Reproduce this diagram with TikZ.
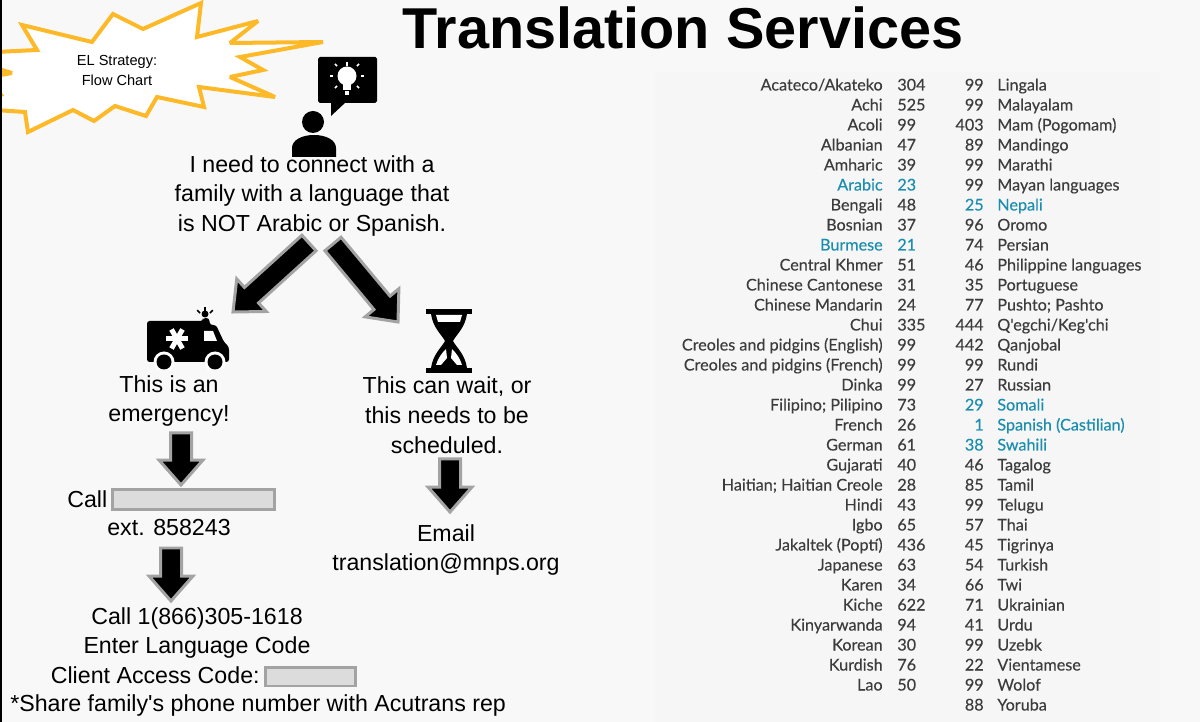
\documentclass[tikz,border=0pt]{standalone}
\usepackage{fontspec}
\newfontfamily\flowfont{Liberation Sans}
\newfontfamily\tablefont[FakeBold=0.25]{Lato}
\usetikzlibrary{calc}
\definecolor{pagegray}{HTML}{F8F8F8}
\definecolor{panelgray}{HTML}{F6F6F6}
\definecolor{burstgold}{HTML}{FDB927}
\definecolor{edgegray}{HTML}{A3A3A3}
\definecolor{barfill}{HTML}{DCDCDC}
\definecolor{ink}{HTML}{3C3C3C}
\definecolor{teal}{HTML}{1B8DAE}
\tikzset{
	flowtext/.style={inner sep=0pt,align=center,font=\flowfont\fontsize{13.2}{17}\selectfont},
	burstlabel/.style={inner sep=0pt,align=center,font=\flowfont\fontsize{8.3}{11.4}\selectfont},
	langname/.style={inner sep=0pt,anchor=base east,font=\tablefont\fontsize{9.2}{10}\selectfont},
	langcode/.style={inner sep=0pt,anchor=base west,font=\tablefont\fontsize{9.2}{10}\selectfont},
	blockedge/.style={draw=edgegray,fill=black,line width=.06cm,miter limit=4},
	hiddenbar/.style={draw=edgegray,fill=barfill,line width=.06cm}
}
% block arrow between two named points
\newcommand{\blockarrow}[2]{
	\coordinate (hb) at ($(#2)!.5cm!(#1)$);
	\draw[blockedge] ($(#1)!.21cm!90:(#2)$) -- ($(hb)!.21cm!90:(#2)$) -- ($(hb)!.44cm!90:(#2)$) -- (#2)
		-- ($(hb)!.44cm!-90:(#2)$) -- ($(hb)!.21cm!-90:(#2)$) -- ($(#1)!.21cm!-90:(#2)$) -- cycle;
}
\begin{document}
\begin{tikzpicture}[x=.02cm,y=-.02cm]
\useasboundingbox (0,0) rectangle (1200,722);

% background
\fill[pagegray] (0,0) rectangle (1200,722);
\fill[panelgray] (655,72) rectangle (1160,722);

% burst
\draw[burstgold,fill=white,line width=.08cm,miter limit=3]
	(-5,52) -- (37,50) -- (22,25) -- (92,42) -- (113,14) -- (143,29) -- (201,3) -- (197,37)
	-- (258,21) -- (230,43) -- (323,42) -- (240,57) -- (263,70) -- (230,77) -- (275,97)
	-- (199,87) -- (204,107) -- (157,97) -- (146,116) -- (115,106) -- (94,121) -- (73,110)
	-- (28,132) -- (25,112) -- (-5,110) -- (-8,100) -- (1,95) -- (-8,85) -- (-5,76) -- (12,73) -- (-5,68) -- cycle;
\fill[black] (0,0) rectangle (2,722);
\node[burstlabel] (burst) at (117,70) {EL Strategy:\\Flow Chart};

% title
\node[inner sep=0pt,font=\flowfont\fontsize{32.8}{40}\selectfont\bfseries] (title) at (683,28) {Translation Services};

% person and bubble
\fill (313,122) circle (11);
\fill (292,157) -- (292,148) .. controls (292,140) and (302,135) .. (314,135) .. controls (326,135) and (336,140) .. (336,148) -- (336,157) -- cycle;
\fill[rounded corners=1pt] (318,57) rectangle (377,103);
\fill (331,100) -- (331,116) -- (346,102) -- cycle;
\fill[white] (347,76) circle (9.5);
\fill[white] (343,84) rectangle (351,90);
\fill[white] (345,91) rectangle (349,95);
\foreach \a in {0,45,135,180,225,315}
	\draw[white,line width=.03cm] ($(347,76)+(\a:14)$) -- ($(347,76)+(\a:17)$);
\draw[white,line width=.03cm] (347,62) -- (347,66);

% ambulance
\fill[rounded corners=1.5pt] (147,321) -- (203,321) -- (203,318) -- (209,318) -- (210,325) -- (216,325) -- (224,342) -- (229,347) -- (229,362) -- (147,362) -- cycle;
\fill[white] (204,331) -- (213,331) -- (217,341) -- (204,341) -- cycle;
\foreach \a in {0,60,120}
	\draw[white,line width=.1cm] ($(177,339)+(\a:11)$) -- ($(177,339)+(\a+180:11)$);
\fill[white] (164,362) circle (10.5);
\fill[white] (215,362) circle (10.5);
\fill (164,362) circle (7.5);
\fill (215,362) circle (7.5);
\fill[pagegray] (147,370) rectangle (235,376);
\fill (205,314) circle (3.5);
\foreach \a in {-135,-90,-45}
	\draw[line width=.03cm] ($(205,318)+(\a:7)$) -- ($(205,318)+(\a:11)$);

% hourglass
\fill (426,309) rectangle (472,314);
\fill (426,368) rectangle (472,373);
\fill (431,314) .. controls (433,328) and (442,335) .. (445,341) .. controls (442,347) and (433,354) .. (431,368)
	-- (467,368) .. controls (465,354) and (456,347) .. (453,341) .. controls (456,335) and (465,328) .. (467,314) -- cycle;
\fill[white] (436,315) -- (462,315) -- (460,322) -- (438,322) -- cycle;
\fill[white] (446,349) .. controls (442,353) and (438,358) .. (436,365) -- (441,365) -- (447,358) -- cycle;
\fill[white] (452,349) .. controls (456,353) and (460,358) .. (462,365) -- (457,365) -- (451,358) -- cycle;

% flow text
\node[flowtext] (need) at (312,196) {I need to connect with a\\family with a language that\\is NOT Arabic or Spanish.};
\node[flowtext] (urgent) at (169,401) {This is an\\emergency!};
\node[flowtext] (later) at (447,415) {This can wait, or\\this needs to be\\scheduled.};
\node[flowtext,anchor=west] (call) at (67,499) {Call};
\node[hiddenbar,minimum width=3.24cm,minimum height=.42cm,inner sep=0pt] (phonebar) at (193.5,499.5) {};
\node[flowtext] (ext) at (169,528) {ext. 858243};
\node[flowtext] (email) at (446,550) {Email\\translation@mnps.org};
\node[flowtext] (acutrans) at (197,633) {Call 1(866)305-1618\\Enter Language Code};
\node[flowtext,anchor=east] (client) at (260,675) {Client Access Code:};
\node[hiddenbar,minimum width=1.8cm,minimum height=.38cm,inner sep=0pt] (clientbar) at (310.5,676.5) {};
\node[flowtext,anchor=west] (share) at (10,706) {*Share family's phone number with Acutrans rep};

% arrows
\coordinate (leftstart) at (309,243);
\coordinate (lefttip) at (233,312);
\coordinate (rightstart) at (333,244);
\coordinate (righttip) at (398,322);
\coordinate (urgentout) at (181,433);
\coordinate (urgenttip) at (181,485);
\coordinate (laterout) at (450,459);
\coordinate (latertip) at (450,512);
\coordinate (extout) at (171,548);
\coordinate (exttip) at (171,601);
\blockarrow{leftstart}{lefttip}
\blockarrow{rightstart}{righttip}
\blockarrow{urgentout}{urgenttip}
\blockarrow{laterout}{latertip}
\blockarrow{extout}{exttip}

% language codes, left half
\foreach \lname/\lcode/\lcol [count=\r] in {
	{Acateco/Akateko}/304/ink,Achi/525/ink,Acoli/99/ink,Albanian/47/ink,Amharic/39/ink,Arabic/23/teal,
	Bengali/48/ink,Bosnian/37/ink,Burmese/21/teal,Central Khmer/51/ink,Chinese Cantonese/31/ink,
	Chinese Mandarin/24/ink,Chui/335/ink,Creoles and pidgins (English)/99/ink,Creoles and pidgins (French)/99/ink,
	Dinka/99/ink,Filipino; Pilipino/73/ink,French/26/ink,German/61/ink,Gujarati/40/ink,
	Haitian; Haitian Creole/28/ink,Hindi/43/ink,Igbo/65/ink,Jakaltek (Poptí)/436/ink,Japanese/63/ink,
	Karen/34/ink,Kiche/622/ink,Kinyarwanda/94/ink,Korean/30/ink,Kurdish/76/ink,Lao/50/ink}{
	\node[langname,text=\lcol] (ln\r) at (883,{70.5+20*\r}) {\lname};
	\node[langcode,text=\lcol] (lc\r) at (897,{70.5+20*\r}) {\lcode};
}
% language codes, right half
\foreach \rname/\rcode/\rcol [count=\r] in {
	Lingala/99/ink,Malayalam/99/ink,Mam (Pogomam)/403/ink,Mandingo/89/ink,Marathi/99/ink,Mayan languages/99/ink,
	Nepali/25/teal,Oromo/96/ink,Persian/74/ink,Philippine languages/46/ink,Portuguese/35/ink,
	Pushto; Pashto/77/ink,{Q'egchi/Keg'chi}/444/ink,Qanjobal/442/ink,Rundi/99/ink,Russian/27/ink,
	Somali/29/teal,Spanish (Castilian)/1/teal,Swahili/38/teal,Tagalog/46/ink,Tamil/85/ink,Telugu/99/ink,
	Thai/57/ink,Tigrinya/45/ink,Turkish/54/ink,Twi/66/ink,Ukrainian/71/ink,Urdu/41/ink,Uzebk/99/ink,
	Vientamese/22/ink,Wolof/99/ink,Yoruba/88/ink}{
	\node[langname,text=\rcol] (rc\r) at (984,{70.5+20*\r}) {\rcode};
	\node[langcode,text=\rcol] (rn\r) at (997,{70.5+20*\r}) {\rname};
}
\end{tikzpicture}
\end{document}
